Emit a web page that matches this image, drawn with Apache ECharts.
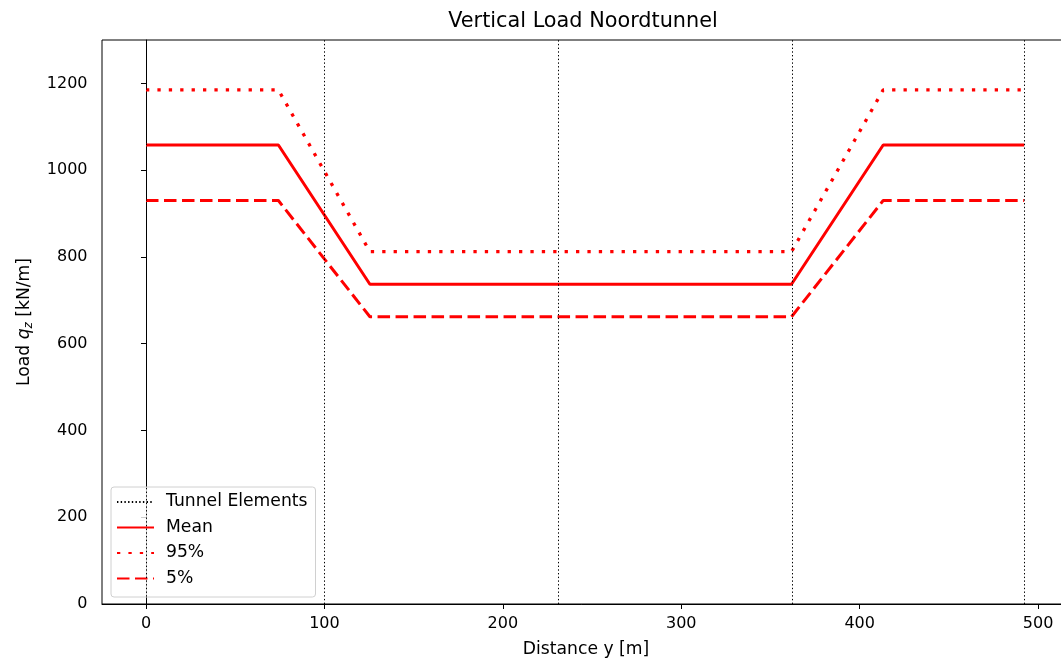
<!DOCTYPE html>
<html>
<head>
<meta charset="utf-8">
<script src="https://cdn.jsdelivr.net/npm/echarts@6/dist/echarts.min.js"></script>
<style>html,body{margin:0;padding:0;background:#fff}#c{width:1061px;height:659px}</style>
</head>
<body>
<div id="c"></div>
<script>
// Data
const distance = [0, 74.2, 125.5, 361.8, 413.2, 492.2];
const meanLoad = [1058, 1058, 737, 737, 1058, 1058];
const p95Load = [1185, 1185, 812, 812, 1185, 1185];
const p5Load = [930, 930, 662, 662, 930, 930];
const tunnelElements = [0, 100, 230.9, 362.2, 492.2];
const xTicks = [0, 100, 200, 300, 400, 500];
const yTicks = [0, 200, 400, 600, 800, 1000, 1200];

const pairs = (xs, ys) => xs.map((x, i) => [x, ys[i]]);
const FONT = 'DejaVu Sans';
const RED = '#ff0000';
const TICK_FS = 16;
const LABEL_FS = 17.2;

const chart = echarts.init(document.getElementById('c'), null, {renderer: 'canvas'});
chart.setOption({
  animation: false,
  backgroundColor: '#fff',
  textStyle: {fontFamily: FONT, color: '#000'},
  title: {
    text: 'Vertical Load Noordtunnel',
    left: 578, top: 6, textAlign: 'center',
    textStyle: {fontFamily: FONT, fontSize: 20.8, fontWeight: 'normal', color: '#000'}
  },
  grid: {
    left: 102, top: 40, width: 968, height: 564,
    containLabel: false, outerBoundsMode: 'none',
    show: true, borderColor: '#000', borderWidth: 1, backgroundColor: 'transparent'
  },
  legend: {
    orient: 'vertical', left: 111, top: 487,
    padding: [6.5, 8, 10, 5],
    itemWidth: 37, itemHeight: 14, itemGap: 8.5,
    itemStyle: {opacity: 0, borderWidth: 0},
    backgroundColor: 'rgba(255,255,255,0.8)', borderColor: '#d0d0d0', borderWidth: 1, borderRadius: 3,
    textStyle: {fontFamily: FONT, fontSize: LABEL_FS, color: '#000', padding: [0, 0, 0, 7]},
    data: ['Tunnel Elements', 'Mean', '95%', '5%']
  },
  xAxis: {
    type: 'value', min: -24.66, max: 517.9,
    name: 'Distance y [m]', nameLocation: 'middle', nameGap: 37,
    nameTextStyle: {fontFamily: FONT, fontSize: LABEL_FS, color: '#000'},
    axisLine: {show: true, onZero: false, lineStyle: {color: '#000', width: 1}},
    axisTick: {show: true, length: 5, lineStyle: {color: '#000'}, customValues: xTicks},
    axisLabel: {fontFamily: FONT, fontSize: TICK_FS, color: '#000', margin: 11.5, customValues: xTicks,
      formatter: v => String(v)},
    splitLine: {show: false}
  },
  yAxis: {
    type: 'value', min: 0, max: 1300,
    name: 'Load {i|q}{s|z} [kN/m]', nameLocation: 'middle', nameGap: 67, nameRotate: 90,
    nameTextStyle: {fontFamily: FONT, fontSize: LABEL_FS, color: '#000',
      rich: {i: {fontFamily: FONT, fontSize: LABEL_FS, fontStyle: 'italic', color: '#000'},
             s: {fontFamily: FONT, fontSize: 12, fontStyle: 'italic', color: '#000', padding: [9, 0, 0, 0]}}},
    axisLine: {show: true, lineStyle: {color: '#000', width: 1}},
    axisTick: {show: true, length: 5, lineStyle: {color: '#000'}, customValues: yTicks},
    axisLabel: {fontFamily: FONT, fontSize: TICK_FS, color: '#000', margin: 14.5, customValues: yTicks,
      formatter: v => String(v)},
    splitLine: {show: false}
  },
  series: [
    {
      name: 'Tunnel Elements', type: 'line', data: [], symbol: 'none',
      itemStyle: {color: '#000'},
      lineStyle: {color: '#000', width: 1, type: [1.4, 2.3]},
      markLine: {
        silent: true, symbol: ['none', 'none'], label: {show: false},
        lineStyle: {color: '#000', width: 1, type: [1.4, 2.3]},
        data: tunnelElements.map(x => ({xAxis: x}))
      }
    },
    {
      name: 'Mean', type: 'line', data: pairs(distance, meanLoad), symbol: 'none',
      itemStyle: {color: RED}, lineStyle: {color: RED, width: 3, type: 'solid'}
    },
    {
      name: '95%', type: 'line', data: pairs(distance, p95Load), symbol: 'none',
      itemStyle: {color: RED}, lineStyle: {color: RED, width: 3.3, type: [3.3, 8.1]}
    },
    {
      name: '5%', type: 'line', data: pairs(distance, p5Load), symbol: 'none',
      itemStyle: {color: RED}, lineStyle: {color: RED, width: 3, type: [12.5, 5.5]}
    }
  ]
});
</script>
</body>
</html>
